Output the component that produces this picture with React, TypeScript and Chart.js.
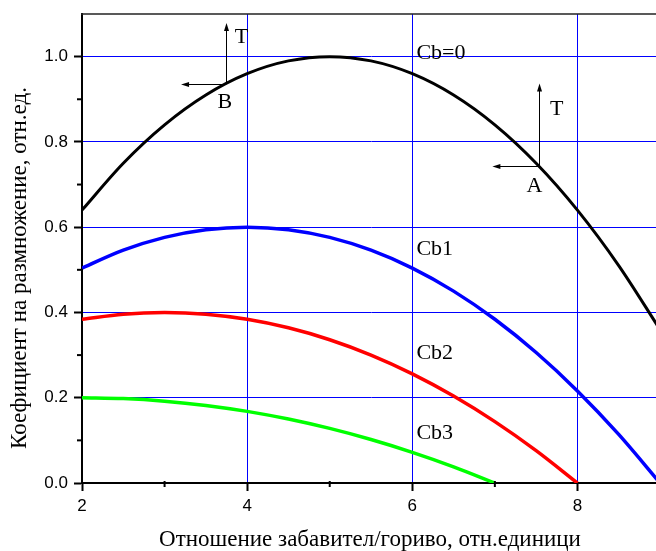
import React, { useEffect, useRef } from "react";
import { Chart, registerables } from "chart.js";

Chart.register(...registerables);

// ---- data ----
const xFull = [2, 2.5, 3, 3.5, 4, 4.5, 5, 5.5, 6, 6.5, 7, 7.5, 8, 8.5, 9];
const cb0Values = [0.64, 0.75, 0.84, 0.91, 0.96, 0.99, 1.0, 0.99, 0.96, 0.91, 0.84, 0.75, 0.64, 0.51, 0.36];
const cb1Values = [0.504, 0.546, 0.576, 0.594, 0.6, 0.594, 0.576, 0.546, 0.504, 0.45, 0.384, 0.306, 0.216, 0.114, 0.0];
const xCb2 = [2, 2.5, 3, 3.5, 4, 4.5, 5, 5.5, 6, 6.5, 7, 7.5, 8];
const cb2Values = [0.384, 0.396, 0.4, 0.396, 0.384, 0.364, 0.336, 0.3, 0.256, 0.204, 0.144, 0.076, 0.0];
const xCb3 = [2, 2.5, 3, 3.5, 4, 4.5, 5, 5.5, 6, 6.5, 7];
const cb3Values = [0.2, 0.198, 0.192, 0.182, 0.168, 0.15, 0.128, 0.102, 0.072, 0.038, 0.0];

const xTickValues = [2, 4, 6, 8];
const yTickValues = [0.0, 0.2, 0.4, 0.6, 0.8, 1.0];
const xMinorTicks = [3, 5, 7];
const yMinorTicks = [0.1, 0.3, 0.5, 0.7, 0.9];

const xTitle = "Отношение забавител/гориво, отн.единици";
const yTitle = "Коефициент на размножение, отн.ед.";

const curveLabels = ["Cb=0", "Cb1", "Cb2", "Cb3"];
const curveLabelX = [6.05, 6.05, 6.05, 6.05];
const curveLabelY = [1.008, 0.548, 0.304, 0.117];

// arrows: origin point, vertical arrow top, horizontal arrow left end
const arrowNames = ["B", "A"];
const arrowOriginX = [3.74, 7.54];
const arrowOriginY = [0.935, 0.743];
const arrowTopY = [1.079, 0.937];
const arrowLeftX = [3.2, 6.97];
const arrowTLabelX = [3.93, 7.75];
const arrowTLabelY = [1.045, 0.877];
const arrowNameX = [3.73, 7.48];
const arrowNameY = [0.892, 0.696];

const SERIF = "'Liberation Serif', 'Times New Roman', serif";
const SANS = "'Liberation Sans', Arial, sans-serif";

function pts(xs: number[], ys: number[]) {
  return xs.map((x, i) => ({ x, y: ys[i] }));
}

function arrowHead(ctx: CanvasRenderingContext2D, x: number, y: number, dir: "up" | "left") {
  const len = 8;
  const half = 2.5;
  ctx.beginPath();
  if (dir === "up") {
    ctx.moveTo(x, y);
    ctx.lineTo(x - half, y + len);
    ctx.lineTo(x + half, y + len);
  } else {
    ctx.moveTo(x, y);
    ctx.lineTo(x + len, y - half);
    ctx.lineTo(x + len, y + half);
  }
  ctx.closePath();
  ctx.fill();
}

const decorPlugin = {
  id: "decor",
  afterDatasetsDraw(chart: any) {
    const ctx: CanvasRenderingContext2D = chart.ctx;
    const xs = chart.scales.x;
    const ys = chart.scales.y;
    const area = chart.chartArea;
    ctx.save();

    // top frame line
    ctx.strokeStyle = "#222";
    ctx.lineWidth = 1.5;
    ctx.beginPath();
    ctx.moveTo(area.left - 1, area.top);
    ctx.lineTo(area.right, area.top);
    ctx.stroke();

    // minor ticks
    ctx.strokeStyle = "#000";
    ctx.lineWidth = 2;
    xMinorTicks.forEach((v) => {
      const px = xs.getPixelForValue(v);
      ctx.beginPath();
      ctx.moveTo(px, area.bottom - 2);
      ctx.lineTo(px, area.bottom + 4);
      ctx.stroke();
    });
    yMinorTicks.forEach((v) => {
      const py = ys.getPixelForValue(v);
      ctx.beginPath();
      ctx.moveTo(area.left + 1, py);
      ctx.lineTo(area.left - 5, py);
      ctx.stroke();
    });

    // arrows
    ctx.fillStyle = "#000";
    ctx.strokeStyle = "#000";
    ctx.lineWidth = 1;
    for (let i = 0; i < arrowNames.length; i++) {
      const ox = xs.getPixelForValue(arrowOriginX[i]);
      const oy = ys.getPixelForValue(arrowOriginY[i]);
      const ty = ys.getPixelForValue(arrowTopY[i]);
      const lx = xs.getPixelForValue(arrowLeftX[i]);
      ctx.beginPath();
      ctx.moveTo(Math.round(ox) + 0.5, oy);
      ctx.lineTo(Math.round(ox) + 0.5, ty + 4);
      ctx.moveTo(ox, Math.round(oy) + 0.5);
      ctx.lineTo(lx + 4, Math.round(oy) + 0.5);
      ctx.stroke();
      arrowHead(ctx, Math.round(ox) + 0.5, ty, "up");
      arrowHead(ctx, lx, Math.round(oy) + 0.5, "left");

      ctx.font = `22px ${SERIF}`;
      ctx.textAlign = "center";
      ctx.textBaseline = "middle";
      ctx.fillText("T", xs.getPixelForValue(arrowTLabelX[i]), ys.getPixelForValue(arrowTLabelY[i]));
      ctx.fillText(arrowNames[i], xs.getPixelForValue(arrowNameX[i]), ys.getPixelForValue(arrowNameY[i]));
    }

    // curve labels
    ctx.font = `22px ${SERIF}`;
    ctx.textAlign = "left";
    ctx.textBaseline = "middle";
    curveLabels.forEach((t, i) => {
      ctx.fillText(t, xs.getPixelForValue(curveLabelX[i]), ys.getPixelForValue(curveLabelY[i]));
    });

    ctx.restore();
  },
  afterDraw(chart: any) {
    const ctx: CanvasRenderingContext2D = chart.ctx;
    ctx.save();
    ctx.fillStyle = "#000";
    ctx.font = `23px ${SERIF}`;
    ctx.textAlign = "center";
    ctx.textBaseline = "middle";
    ctx.fillText(xTitle, 370, 540);
    ctx.translate(20, 268);
    ctx.rotate(-Math.PI / 2);
    ctx.fillText(yTitle, 0, 0);
    ctx.restore();
  },
};

export default function App() {
  const canvasRef = useRef<HTMLCanvasElement | null>(null);

  useEffect(() => {
    if (!canvasRef.current) return;
    const lineCommon = {
      pointRadius: 0,
      fill: false,
      cubicInterpolationMode: "monotone" as const,
      borderCapStyle: "butt" as const,
    };
    const chart = new Chart(canvasRef.current, {
      type: "line",
      data: {
        datasets: [
          { label: "Cb=0", data: pts(xFull, cb0Values), borderColor: "#000000", borderWidth: 3, ...lineCommon },
          { label: "Cb1", data: pts(xFull, cb1Values), borderColor: "#0000ff", borderWidth: 3.5, ...lineCommon },
          { label: "Cb2", data: pts(xCb2, cb2Values), borderColor: "#ff0000", borderWidth: 3.5, ...lineCommon },
          { label: "Cb3", data: pts(xCb3, cb3Values), borderColor: "#00ff00", borderWidth: 3.5, ...lineCommon },
        ],
      },
      options: {
        animation: false,
        responsive: false,
        maintainAspectRatio: false,
        layout: { padding: { top: 14, left: 0, right: 0, bottom: 0 } },
        plugins: {
          legend: { display: false },
          tooltip: { enabled: false },
        },
        scales: {
          x: {
            type: "linear",
            min: 2,
            max: 9,
            afterFit: (s: any) => {
              s.height = 68;
              s.paddingLeft = 0;
              s.paddingRight = 0;
              s.paddingTop = 0;
              s.paddingBottom = 0;
            },
            afterBuildTicks: (s: any) => {
              s.ticks = xTickValues.map((v) => ({ value: v }));
            },
            ticks: {
              color: "#000",
              font: { family: SANS, size: 17 },
              padding: 5,
              maxRotation: 0,
              callback: (v: any) => String(v),
            },
            grid: {
              color: (c: any) => (c.tick && c.tick.value === 2 ? "rgba(0,0,0,0)" : "#0000ff"),
              lineWidth: 1,
              tickColor: "#000",
              tickLength: 8,
              tickWidth: 2,
            },
            border: { display: true, color: "#000", width: 2 },
          },
          y: {
            type: "linear",
            min: 0,
            max: 1.1,
            afterFit: (s: any) => {
              s.width = 82;
              s.paddingLeft = 0;
              s.paddingRight = 0;
              s.paddingTop = 0;
              s.paddingBottom = 0;
            },
            afterBuildTicks: (s: any) => {
              s.ticks = yTickValues.map((v) => ({ value: v }));
            },
            ticks: {
              color: "#000",
              font: { family: SANS, size: 17 },
              padding: 6,
              callback: (v: any) => Number(v).toFixed(1),
            },
            grid: {
              color: (c: any) => (c.tick && c.tick.value === 0 ? "rgba(0,0,0,0)" : "#0000ff"),
              lineWidth: 1,
              tickColor: "#000",
              tickLength: 8,
              tickWidth: 2,
            },
            border: { display: true, color: "#000", width: 2 },
          },
        },
      },
      plugins: [decorPlugin],
    });
    return () => chart.destroy();
  }, []);

  return (
    <div
      style={{
        position: "absolute",
        left: 0,
        top: 0,
        width: 656,
        height: 551,
        overflow: "hidden",
        background: "#fff",
      }}
    >
      <canvas ref={canvasRef} width={660} height={551} style={{ display: "block", width: 660, height: 551 }} />
    </div>
  );
}
